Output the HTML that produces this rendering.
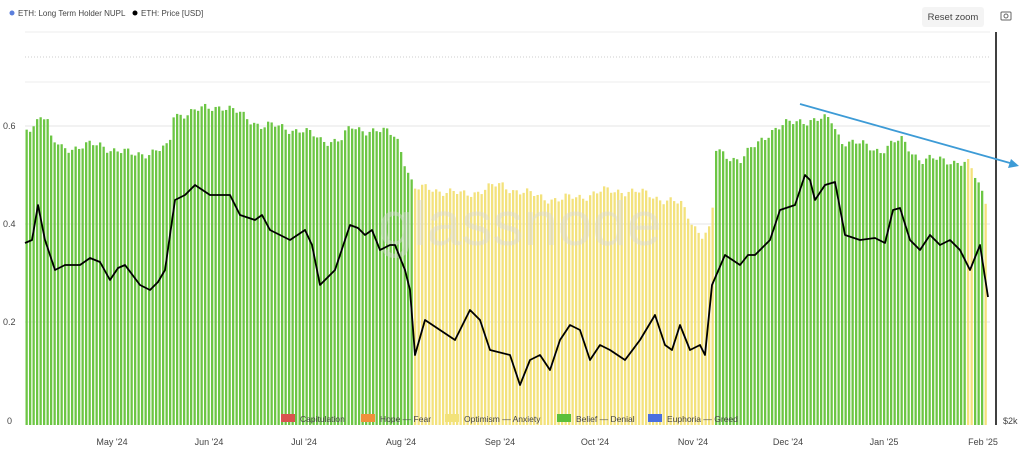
<!DOCTYPE html>
<html><head><meta charset="utf-8"><style>
body{margin:0;width:1024px;height:455px;background:#fff;font-family:"Liberation Sans",sans-serif;overflow:hidden}
svg{position:absolute;left:0;top:0}
</style></head><body>
<svg id="s" width="1024" height="455" xmlns="http://www.w3.org/2000/svg">
<circle cx="12" cy="13" r="2.5" fill="#5b7fdc"/>
<text x="18" y="16" font-size="8" fill="#444">ETH: Long Term Holder NUPL</text>
<circle cx="135" cy="13" r="2.5" fill="#000"/>
<text x="141" y="16" font-size="8" fill="#444">ETH: Price [USD]</text>
<rect x="922" y="7" width="62" height="20" rx="3" fill="#f4f4f4"/>
<text x="953" y="20" font-size="9.5" fill="#444" text-anchor="middle">Reset zoom</text>
<rect x="1001" y="12" width="10" height="8" rx="1" fill="none" stroke="#666" stroke-width="1"/>
<circle cx="1006" cy="16" r="2" fill="none" stroke="#666"/>
<line x1="25" y1="32" x2="990" y2="32" stroke="#eee"/>
<line x1="25" y1="57" x2="990" y2="57" stroke="#ccc" stroke-dasharray="1,2"/>
<line x1="25" y1="82" x2="990" y2="82" stroke="#eee"/>
<g id="grid"></g>
<text x="3" y="129" font-size="9" fill="#444">0.6</text>
<text x="3" y="227" font-size="9" fill="#444">0.4</text>
<text x="3" y="325" font-size="9" fill="#444">0.2</text>
<text x="7" y="424" font-size="9" fill="#444">0</text>
<g id="bars"></g>
<text x="520" y="245" font-size="62" fill="#d8d8d8" fill-opacity="0.45" text-anchor="middle">glassnode</text>
<polyline id="price" fill="none" stroke="#000" stroke-width="1.8" stroke-linejoin="round"/>
<line x1="996" y1="32" x2="996" y2="425" stroke="#000" stroke-width="1.5"/>
<text x="1003" y="424" font-size="9" fill="#444">$2k</text>
<line x1="800" y1="104" x2="1010" y2="163" stroke="#3d9bd6" stroke-width="1.8"/>
<polygon points="1019,166 1008,168 1011,159" fill="#3d9bd6"/>
<g font-size="8.5" fill="#444">
<rect x="281" y="414" width="14" height="8" fill="#d9534f"/><text x="300" y="422">Capitulation</text>
<rect x="361" y="414" width="14" height="8" fill="#f0903a"/><text x="380" y="422">Hope — Fear</text>
<rect x="445" y="414" width="14" height="8" fill="#f2e27a"/><text x="464" y="422">Optimism — Anxiety</text>
<rect x="557" y="414" width="14" height="8" fill="#5cbf3a"/><text x="576" y="422">Belief — Denial</text>
<rect x="648" y="414" width="14" height="8" fill="#4a6fe0"/><text x="667" y="422">Euphoria — Greed</text>
</g>
<g font-size="9" fill="#444" text-anchor="middle">
<text x="112" y="445">May '24</text><text x="209" y="445">Jun '24</text><text x="304" y="445">Jul '24</text>
<text x="401" y="445">Aug '24</text><text x="500" y="445">Sep '24</text><text x="595" y="445">Oct '24</text>
<text x="693" y="445">Nov '24</text><text x="788" y="445">Dec '24</text><text x="884" y="445">Jan '25</text>
<text x="983" y="445">Feb '25</text>
</g>
</svg>
<script>
(function(){
const NS="http://www.w3.org/2000/svg";
function interp(pts,x){for(let i=0;i<pts.length-1;i++){if(x>=pts[i][0]&&x<=pts[i+1][0]){const t=(x-pts[i][0])/(pts[i+1][0]-pts[i][0]);return pts[i][1]+t*(pts[i+1][1]-pts[i][1]);}}return pts[pts.length-1][1];}
const tops=[[25,130],[32,125],[40,113],[46,120],[50,140],[60,148],[100,145],[130,155],[160,150],[168,148],[172,115],[200,110],[220,105],[240,115],[260,125],[300,130],[320,140],[340,140],[350,128],[370,130],[395,135],[405,165],[410,180],[412,190],[430,188],[460,195],[500,185],[530,195],[560,200],[600,192],[620,190],[650,195],[680,205],[700,235],[711,230],[713,150],[725,155],[740,160],[770,130],[800,120],[830,120],[840,140],[880,150],[900,140],[920,160],[950,160],[968,165],[985,200]];
const g=document.getElementById("bars");let k=0;
for(let x=25.5;x<988;x+=3.5){let y=interp(tops,x)+Math.sin(k*1.7)*3+Math.sin(k*0.6)*3;k++;
const yel=(x>411&&x<712)||(x>966&&x<972)||x>983;
const r=document.createElementNS(NS,"rect");r.setAttribute("x",x);r.setAttribute("y",y);r.setAttribute("width",2.3);r.setAttribute("height",425-y);r.setAttribute("fill",yel?"#f3e27c":"#6cc644");g.appendChild(r);}
const gg=document.getElementById("grid");
[126,224,322].forEach(y=>{const l=document.createElementNS(NS,"line");l.setAttribute("x1",25);l.setAttribute("x2",990);l.setAttribute("y1",y);l.setAttribute("y2",y);l.setAttribute("stroke","#e6e6e6");gg.appendChild(l);});
const p=[[25,243],[32,240],[38,205],[45,240],[55,270],[65,265],[80,265],[90,258],[100,262],[110,280],[118,268],[125,265],[140,285],[150,290],[158,282],[165,270],[175,200],[185,195],[195,185],[210,195],[230,195],[240,215],[255,220],[262,215],[270,230],[290,240],[305,230],[312,245],[320,285],[335,270],[350,225],[358,228],[365,235],[372,230],[380,250],[390,245],[395,245],[405,270],[410,290],[415,355],[425,320],[440,330],[455,340],[470,310],[480,320],[490,350],[510,355],[520,385],[530,360],[540,355],[550,370],[560,340],[570,325],[580,330],[590,360],[600,345],[610,350],[625,360],[640,340],[655,315],[665,345],[672,350],[680,325],[690,350],[700,345],[705,355],[712,285],[725,255],[740,265],[748,255],[755,255],[770,240],[780,210],[795,205],[805,175],[810,180],[815,200],[825,185],[835,182],[845,235],[860,240],[875,238],[885,243],[893,210],[900,208],[910,240],[920,250],[930,235],[940,245],[950,240],[960,250],[970,270],[980,245],[988,297]];
document.getElementById("price").setAttribute("points",p.map(a=>a.join(",")).join(" "));
})();
</script>
</body></html>
